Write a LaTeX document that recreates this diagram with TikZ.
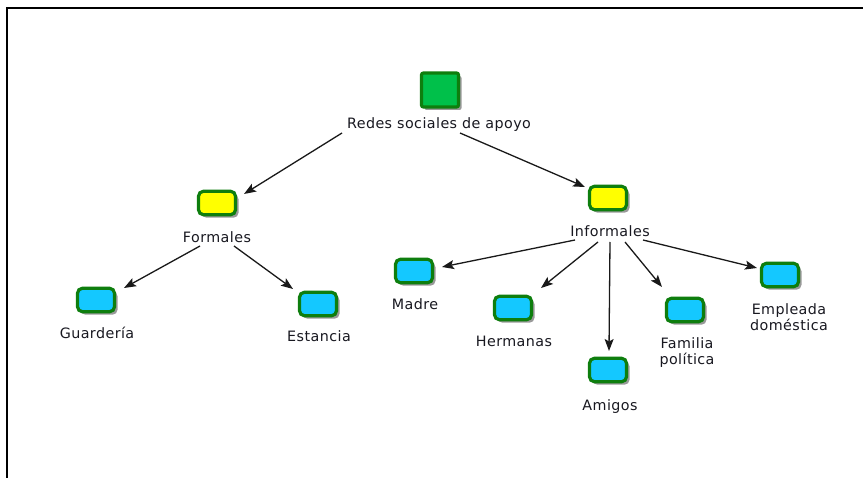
\documentclass[tikz,border=0pt]{standalone}
\usepackage{fontspec}
\setmainfont[LetterSpace=3]{DejaVu Sans}
\usetikzlibrary{arrows.meta,shadows}
\definecolor{bord}{HTML}{0E7E0E}
\definecolor{rootfill}{HTML}{00C04A}
\definecolor{bluefill}{HTML}{14C8FF}
\definecolor{yelfill}{HTML}{FFFF00}
\definecolor{txt}{HTML}{181820}
\tikzset{
  box/.style={draw=bord, line width=3.2pt, rounded corners=5pt, minimum width=37pt, minimum height=23.5pt, inner sep=0pt,
    drop shadow={shadow xshift=3pt, shadow yshift=-3pt, fill=black, opacity=0.4}},
  rootbox/.style={box, fill=rootfill, rounded corners=2pt, minimum width=37pt, minimum height=34pt},
  ybox/.style={box, fill=yelfill},
  bbox/.style={box, fill=bluefill},
  lab/.style={inner sep=0pt, text=txt, font=\fontsize{14.3}{16}\selectfont, align=center},
  arr/.style={draw=black!90, line width=1.3pt, -{Stealth[length=12pt,width=9pt,inset=2.5pt]}},
  frame/.style={draw=black, line width=2pt}
}
\begin{document}
\begin{tikzpicture}[x=1pt,y=-1pt]
\useasboundingbox (0,0) rectangle (863,478);
\coordinate (fa) at (7,478);
\coordinate (fb) at (7,8.5);
\coordinate (fc) at (863,8.5);
\draw[frame] (fa) -- (fb) -- (fc);

\node[rootbox] (root) at (440,90) {};
\node[lab, anchor=base] (rlab) at (439,129) {Redes sociales de apoyo};

\node[ybox] (fbox) at (217,203) {};
\node[lab, anchor=base] (flab) at (217,243) {Formales};
\node[ybox] (ibox) at (608,198) {};
\node[lab, anchor=base] (ilab) at (610,237) {Informales};

\node[bbox] (gbox) at (96,300) {};
\node[lab, anchor=base] (glab) at (97,339) {Guardería};
\node[bbox] (ebox) at (318,304) {};
\node[lab, anchor=base] (elab) at (319,342) {Estancia};

\node[bbox] (mbox) at (414,271) {};
\node[lab, anchor=base] (mlab) at (415,310) {Madre};
\node[bbox] (hbox) at (513,308) {};
\node[lab, anchor=base] (hlab) at (514,347) {Hermanas};
\node[bbox] (abox) at (608,370) {};
\node[lab, anchor=base] (alab) at (610,411) {Amigos};
\node[bbox] (fpbox) at (685,310) {};
\node[lab, anchor=base] (fplab) at (687,365) {Familia\\política};
\node[bbox] (edbox) at (780,275) {};
\node[lab, anchor=base] (edlab) at (789,331) {Empleada\\doméstica};

\draw[arr] ([shift={(-97,4)}]rlab.base) -- ([shift={(27,-9)}]fbox.center);
\draw[arr] ([shift={(21,4)}]rlab.base) -- ([shift={(-23,-11)}]ibox.center);
\draw[arr] ([shift={(-17,3)}]flab.base) -- ([shift={(28,-12)}]gbox.center);
\draw[arr] ([shift={(17,3)}]flab.base) -- ([shift={(-25,-15)}]ebox.center);
\draw[arr] ([shift={(-35,3)}]ilab.base) -- ([shift={(28,-4)}]mbox.center);
\draw[arr] ([shift={(-12,5)}]ilab.base) -- ([shift={(28,-20)}]hbox.center);
\draw[arr] ([shift={(0,5)}]ilab.base) -- ([shift={(1,-19)}]abox.center);
\draw[arr] ([shift={(15,5)}]ilab.base) -- ([shift={(-23,-23)}]fpbox.center);
\draw[arr] ([shift={(33,3)}]ilab.base) -- ([shift={(-23,-7)}]edbox.center);
\end{tikzpicture}
\end{document}
